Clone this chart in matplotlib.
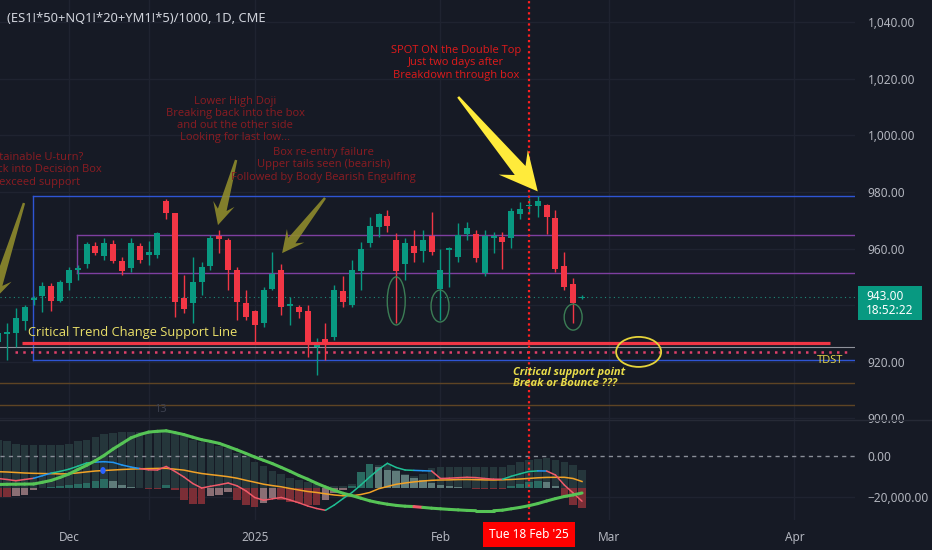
import matplotlib
matplotlib.use('Agg')
import matplotlib.pyplot as plt
import numpy as np
from matplotlib import font_manager
from matplotlib.patches import Rectangle, Ellipse, Polygon
from matplotlib.collections import LineCollection
from matplotlib.ticker import FuncFormatter


def pick(*names):
    for n in names:
        try:
            font_manager.findfont(font_manager.FontProperties(family=n), fallback_to_default=False)
            return n
        except Exception:
            pass
    return 'DejaVu Sans'


UI = pick('Noto Sans', 'Open Sans', 'DejaVu Sans')
NARROW = pick('Liberation Sans Narrow', 'Open Sans', 'Noto Sans', 'DejaVu Sans')

# ---------------- data ----------------
opens = [927.0, 930.0, 930.2, 934.4, 942.0, 943.3, 946.8, 941.5, 947.8, 952.4,
         954.6, 960.9, 957.4, 961.6, 955.6, 953.1, 960.9, 957.7, 957.7, 976.8,
         972.6, 942.5, 940.8, 948.2, 953.9, 964.5, 963.0, 952.4, 940.8, 938.0,
         933.7, 945.7, 952.4, 939.7, 939.4, 938.0, 925.2, 928.1, 928.8, 945.0,
         940.1, 952.1, 962.0, 967.6, 971.5, 963.0, 954.6, 960.9, 959.2, 964.5,
         945.7, 959.5, 957.0, 965.2, 965.2, 951.4, 963.7, 964.1, 963.7, 972.2,
         975.1, 975.1, 975.4, 970.8, 953.9, 947.5, 942.5]
highs = [933.0, 933.7, 939.0, 940.1, 943.3, 948.2, 947.8, 948.9, 953.5, 954.2,
         962.3, 962.3, 963.7, 963.0, 957.0, 963.7, 962.0, 962.7, 965.9, 977.5,
         972.6, 950.7, 957.0, 955.3, 964.8, 966.6, 963.7, 953.5, 945.4, 938.3,
         946.4, 958.8, 954.6, 942.9, 940.1, 940.1, 928.4, 933.7, 947.1, 950.3,
         956.0, 962.3, 971.2, 972.6, 973.6, 965.5, 963.7, 966.6, 966.6, 973.0,
         959.9, 960.6, 969.0, 969.4, 966.6, 966.6, 965.9, 965.9, 974.3, 976.5,
         977.9, 978.6, 975.8, 973.6, 958.8, 949.6, 943.6]
lows = [924.2, 920.6, 925.2, 931.2, 940.1, 937.6, 938.0, 941.1, 945.4, 948.9,
        953.1, 957.7, 956.0, 954.9, 950.7, 951.7, 954.9, 954.2, 956.7, 970.5,
        935.8, 937.2, 933.7, 943.6, 952.4, 958.4, 945.4, 934.8, 934.8, 927.0,
        932.3, 945.4, 936.5, 933.0, 935.5, 921.7, 915.3, 920.6, 927.7, 939.4,
        939.4, 945.4, 960.6, 964.1, 966.0, 933.7, 948.9, 955.3, 955.3, 957.7,
        934.8, 946.4, 955.3, 963.0, 955.3, 950.3, 958.4, 952.8, 960.2, 970.5,
        972.6, 971.2, 965.2, 951.7, 945.4, 933.7, 942.2]
closes = [930.2, 930.3, 935.5, 939.4, 942.3, 946.8, 941.5, 948.2, 952.4, 953.1,
          961.6, 958.4, 962.0, 955.6, 952.1, 962.0, 956.0, 958.8, 965.5, 972.6,
          941.1, 938.7, 948.2, 953.5, 963.7, 963.4, 952.4, 941.1, 935.8, 933.0,
          945.4, 951.0, 939.4, 940.4, 937.6, 926.3, 926.3, 926.3, 945.4, 941.1,
          952.4, 959.9, 968.0, 972.2, 968.0, 952.1, 962.0, 958.4, 963.0, 958.8,
          952.4, 960.2, 964.8, 967.3, 956.7, 964.5, 964.5, 962.3, 973.3, 974.0,
          975.4, 976.8, 971.2, 952.8, 946.4, 940.8, 943.0]

# indicator pane (thousands)
green_line = [-13.9, -13.8, -13.76, -13.7, -13.66, -12.83, -11.9, -10.44, -8.78, -6.63,
              -4.54, -2.29, 0.34, 3.41, 6.1, 8.83, 10.44, 11.66, 12.05, 12.29,
              11.41, 10.44, 9.17, 7.95, 7.12, 6.15, 4.59, 2.98, 1.27, -0.49,
              -2.1, -3.71, -5.56, -7.46, -9.51, -11.32, -13.32, -15.12, -16.73, -18.19,
              -19.32, -20.58, -21.85, -22.78, -23.51, -24.1, -24.49, -24.68, -25.07, -25.46,
              -25.76, -26.05, -26.29, -26.54, -26.68, -26.68, -26.68, -26.44, -25.76, -25.07,
              -24.24, -23.22, -21.95, -20.78, -19.76, -18.98, -18.05]
orange_line = [-7.66, -7.8, -8.05, -8.29, -8.44, -8.54, -8.63, -8.73, -8.68, -8.24,
               -7.76, -7.32, -7.07, -6.83, -6.59, -6.39, -6.24, -6.15, -6.05, -6.0,
               -6.44, -6.88, -7.76, -8.54, -9.07, -9.56, -10.1, -10.83, -11.85, -12.78,
               -13.76, -14.44, -15.02, -15.85, -16.59, -17.32, -17.8, -18.44, -19.02, -19.41,
               -19.41, -18.78, -17.8, -16.0, -14.88, -13.8, -13.17, -12.63, -12.2, -11.85,
               -11.71, -11.66, -11.51, -11.46, -11.56, -11.66, -11.71, -11.61, -11.46, -11.22,
               -10.93, -10.63, -10.44, -10.39, -10.39, -10.98, -12.44]
signal_line = [-10.98, -11.46, -12.05, -11.46, -10.88, -9.61, -8.34, -7.51, -6.44, -4.98,
               -3.41, -2.98, -2.78, -3.12, -4.39, -5.37, -6.1, -6.73, -6.83, -5.12,
               -7.56, -10.24, -13.41, -15.61, -14.78, -14.0, -13.17, -14.54, -16.98, -20.24,
               -21.56, -20.88, -20.24, -21.46, -22.83, -24.39, -25.61, -26.49, -23.9, -20.73,
               -17.8, -14.15, -10.24, -6.59, -3.56, -5.61, -6.83, -7.02, -7.17, -7.32,
               -10.98, -10.83, -10.59, -10.39, -10.54, -10.98, -11.32, -11.37, -9.9, -8.68,
               -7.56, -7.27, -7.32, -9.27, -14.15, -18.05, -22.05]
signal_state = "rrrrrbbtttttbbbbbrrrrrrrrrrrrrrrrrrrrrttttttttttbbrrrrrrrrttttbrrrr"
green_state = "ggggggggggggggggggggggggggggggggggggggggggggggggrgggggggggggggggggg"
cloud_bars = [7.8, 7.3, 5.9, 5.4, 5.4, 5.4, 5.4, 5.4, 5.9, 7.3,
              7.8, 9.3, 10.7, 11.2, 11.5, 11.7, 11.7, 11.7, 12.2, 12.2,
              10.7, 9.8, 7.8, 6.8, 6.3, 4.9, 3.9, 1.5, 0.0, -2.9,
              -4.9, -7.3, -8.8, -10.7, -11.7, -12.7, -13.7, -14.6, -14.6, -14.6,
              -13.7, -7.8, -5.9, -4.4, -3.9, -6.8, -8.8, -9.8, -8.8, -5.9,
              -5.4, -5.4, -5.4, -5.4, -5.4, -5.4, -5.4, -5.4, -4.4, -2.9,
              -2.0, -1.5, -1.0, -2.0, -2.9, -4.4, -6.8]
hist_bars = [-20.0, -20.0, -19.5, -19.0, -16.6, -15.4, -14.9, -14.6, -14.1, -13.7,
             -13.0, -12.0, -11.4, -12.0, -14.1, -15.0, -15.4, -16.1, -16.1, -14.1,
             -16.6, -21.5, -23.6, -23.6, -19.5, -19.0, -17.6, -21.5, -23.9, -24.7,
             -22.9, -20.5, -21.5, -22.3, -22.8, -23.9, -23.9, -21.5, -18.0, -16.6,
             -14.6, -7.8, -3.9, -5.4, -6.8, -7.3, -9.3, -10.7, -11.7, -13.2,
             -14.1, -14.6, -15.1, -15.4, -16.1, -16.1, -16.1, -16.1, -14.6, -13.7,
             -12.7, -12.2, -12.7, -14.6, -20.5, -23.9, -25.4]
HIST_BASE = -15.6

date_ticks = [8, 29, 50, 69, 90]
date_labels = ['Dec', '2025', 'Feb', 'Mar', 'Apr']
grid_x = [8, 17, 29, 50, 69, 90]
price_ticks = [900, 920, 960, 980, 1000, 1020, 1040]
price_grid = [900, 920, 940, 960, 980, 1000, 1020, 1040]
ind_ticks = [0, -20000]
MARK_IDX = 60
MARK_LABEL = "Tue 18 Feb '25"
LAST_PRICE = 943.0
LAST_TIME = "18:52:22"

# drawn levels
BOX = dict(left=3.94, top=978.6, bottom=920.6)
PURPLE = dict(left=8.9, top=964.8, bottom=951.4)
SUPPORT = (2.7, 94.0, 926.6)
GRAY_LVL = 925.2
TDST = (1.9, 96.3, 923.5)
ORANGE_LVLS = [912.5, 904.7]

# ---------------- style ----------------
BG = '#161a25'
GRID = '#1f2330'
TXT = '#b2b5be'
GREEN = '#089981'
RED = '#f23645'

W, H = 932, 550
fig = plt.figure(figsize=(W / 100, H / 100), dpi=100, facecolor=BG)
ax = fig.add_axes([0, 130 / H, 855 / W, 420 / H], facecolor=BG)
ax2 = fig.add_axes([0, 30 / H, 855 / W, 100 / H], facecolor=BG, sharex=ax)

XL = (0.21, 96.86)
ax.set_xlim(*XL)
ax.set_ylim(899.44, 1047.84)
ax2.set_ylim(-31220, 17561)

for a in (ax, ax2):
    for s in a.spines.values():
        s.set_visible(False)
    a.yaxis.tick_right()
    a.tick_params(axis='y', length=0, pad=9, labelsize=8.5, labelcolor=TXT)
    for g in grid_x:
        a.axvline(g, color=GRID, lw=1, zorder=0)

ax.set_yticks(price_ticks)
ax.yaxis.set_major_formatter(FuncFormatter(lambda v, p: f'{v:,.2f}'))
for p in price_grid:
    ax.axhline(p, color=GRID, lw=1, zorder=0)
ax.tick_params(axis='x', bottom=False, labelbottom=False)

ax2.set_yticks(ind_ticks)
ax2.yaxis.set_major_formatter(FuncFormatter(lambda v, p: f'{v:,.2f}'.replace('-', '\u2212')))
ax2.axhline(-20000, color=GRID, lw=1, zorder=0)
ax2.set_xticks(date_ticks)
ax2.set_xticklabels(date_labels)
ax2.tick_params(axis='x', length=0, pad=8, labelsize=8.5, labelcolor=TXT)
for lab in ax2.get_xticklabels() + ax2.get_yticklabels() + ax.get_yticklabels():
    lab.set_fontfamily(UI)
for lab in ax2.get_xticklabels():
    if lab.get_text() == '2025':
        lab.set_fontweight('bold')

# pane separator
fig.add_artist(plt.Line2D([0, 1], [130 / H, 130 / H], color='#262a36', lw=1))

# ---------------- candles ----------------
o = np.array(opens); h = np.array(highs); l = np.array(lows); c = np.array(closes)
idx = np.arange(len(o))
cols = np.where(c >= o, GREEN, RED)
ax.vlines(idx, l, h, colors=cols, lw=1, zorder=4)
body_lo = np.minimum(o, c)
body_h = np.maximum(np.abs(c - o), 0.4)
ax.bar(idx, body_h, bottom=body_lo, width=0.68, color=cols, zorder=5, linewidth=0)

# ---------------- levels ----------------
xr = XL[1]
ax.plot([BOX['left'], xr], [BOX['top'], BOX['top']], color='#2f55d4', lw=1, zorder=3)
ax.plot([BOX['left'], xr], [BOX['bottom'], BOX['bottom']], color='#2f55d4', lw=1, zorder=3)
ax.plot([BOX['left'], BOX['left']], [BOX['bottom'], BOX['top']], color='#2f55d4', lw=1, zorder=3)
ax.plot([PURPLE['left'], xr], [PURPLE['top'], PURPLE['top']], color='#7e3fa0', lw=1, zorder=3)
ax.plot([PURPLE['left'], xr], [PURPLE['bottom'], PURPLE['bottom']], color='#7e3fa0', lw=1, zorder=3)
ax.plot([PURPLE['left'], PURPLE['left']], [PURPLE['bottom'], PURPLE['top']], color='#7e3fa0', lw=1, zorder=3)
ax.axhline(LAST_PRICE, color='#1f8a7a', lw=0.8, ls=(0, (1, 3)), zorder=2)
ax.axhline(GRAY_LVL, color='#8f929b', lw=0.8, zorder=3)
ax.plot([SUPPORT[0], SUPPORT[1]], [SUPPORT[2]] * 2, color=RED, lw=2.3, zorder=6, solid_capstyle='butt')
ax.plot([TDST[0], TDST[1]], [TDST[2]] * 2, color='#e0406a', lw=1.8, ls=(0, (1, 2.1)),
        dash_capstyle='butt', zorder=3)
for lv in ORANGE_LVLS:
    ax.axhline(lv, color='#5e4424', lw=1, zorder=2)
ax.axvline(MARK_IDX, color='#ff1f1f', lw=1.6, ls=(0, (1, 1.5)), zorder=7)
ax2.axvline(MARK_IDX, color='#ff1f1f', lw=1.6, ls=(0, (1, 1.5)), zorder=7)

# ellipses
for (cx, cy, ew, eh) in [(45.0, 941.5, 2.03, 17.0), (49.95, 939.7, 2.03, 11.3), (65.0, 935.8, 2.03, 9.2)]:
    ax.add_patch(Ellipse((cx, cy), ew, eh, fill=False, ec='#3b7d55', lw=1, zorder=8))
ax.add_patch(Ellipse((72.4, 923.5), 5.09, 10.6, fill=False, ec='#e5d33a', lw=1.3, zorder=8))


# arrows
def tv_arrow(tail, tip, color, alpha, s0, s1, hw, hl):
    T = ax.transData
    p0 = T.transform(tail)
    p1 = T.transform(tip)
    d = p1 - p0
    u = d / np.hypot(*d)
    n = np.array([-u[1], u[0]])
    neck = p1 - u * hl * 0.72
    barb = p1 - u * hl
    pts = [p0 + n * s0, neck + n * s1, barb + n * hw, p1, barb - n * hw, neck - n * s1, p0 - n * s0]
    pts = T.inverted().transform(np.array(pts))
    ax.add_patch(Polygon(pts, closed=True, fc=color, ec='none', alpha=alpha, zorder=9))


OLIVE = '#8f8b2c'
tv_arrow((2.92, 976.1), (-0.6, 941.5), OLIVE, 0.9, 1.2, 4.5, 12, 24)
tv_arrow((26.9, 991.3), (24.85, 968.3), OLIVE, 0.9, 1.2, 4.5, 11, 22)
tv_arrow((36.95, 977.9), (32.1, 958.4), OLIVE, 0.9, 1.2, 4.5, 11, 22)
tv_arrow((52.0, 1013.6), (61.0, 980.2), '#ffeb3b', 1.0, 1.2, 7.0, 19, 38)

# texts
DIM = '#8a1c22'
ax.text(51.8, 1025.6, 'SPOT ON the Double Top\nJust two days after\nBreakdown through box',
        color='#e01b1b', fontsize=8, family=NARROW, ha='center', va='center', linespacing=1.15, zorder=10)
ax.text(26.8, 1005.6, 'Lower High Doji\nBreaking back into the box\nand out the other side\nLooking for last low...',
        color=DIM, fontsize=8, family=NARROW, ha='center', va='center', linespacing=1.15, zorder=10)
ax.text(36.8, 989.6, 'Box re-entry failure\nUpper tails seen (bearish)\nFollowed by Body Bearish Engulfing',
        color=DIM, fontsize=8, family=NARROW, ha='center', va='center', linespacing=1.15, zorder=10)
ax.text(3.9, 987.8, 'Sustainable U-turn?\nGet back into Decision Box\nor exceed support',
        color=DIM, fontsize=8, family=NARROW, ha='center', va='center', linespacing=1.15, zorder=10, clip_on=True)
ax.text(3.4, 930.4, 'Critical Trend Change Support Line', color='#ece26a', fontsize=9.3,
        family=NARROW, ha='left', va='center', zorder=10)
ax.text(58.2, 914.3, 'Critical support point\nBreak or Bounce ???', color='#e8dc4a', fontsize=8,
        family=NARROW, style='italic', weight='bold', ha='left', va='center', linespacing=1.1, zorder=10)
ax.text(94.0, 920.3, 'TDST', color='#e6d84a', fontsize=8, family=NARROW, ha='center', va='center', zorder=10)
ax.text(18.3, 903.3, '13', color='#3d4150', fontsize=8, family=UI, ha='center', va='center', zorder=10)

fig.text(7 / W, 1 - 18 / H, '(ES1!*50+NQ1!*20+YM1!*5)/1000, 1D, CME', color='#d1d4dc',
         fontsize=9.3, family=UI, ha='left', va='center')

# price tag
yt = ax.get_yaxis_transform()
ax.add_patch(Rectangle((858 / 855, 934.77), (922 - 858) / 855, 12.0, transform=yt,
                       fc=GREEN, ec='none', clip_on=False, zorder=20))
ax.text(866 / 855, LAST_PRICE, f'{LAST_PRICE:.2f}', transform=yt, color='white', fontsize=8.5,
        family=UI, ha='left', va='center', clip_on=False, zorder=21)
ax.text(866 / 855, 938.0, LAST_TIME, transform=yt, color='white', fontsize=8.5,
        family=UI, ha='left', va='center', clip_on=False, zorder=21)

# date marker label
ax2.text(MARK_IDX, -0.145, MARK_LABEL, transform=ax2.get_xaxis_transform(), color='white',
         fontsize=8.5, family=UI, ha='center', va='center', clip_on=False, zorder=21,
         bbox=dict(boxstyle='square,pad=0.55', fc='#ff0000', ec='none'))

# ---------------- indicator ----------------
K = 1000.0
cb = np.array(cloud_bars) * K
hb = np.array(hist_bars) * K
base = HIST_BASE * K
ax2.bar(idx, cb - base, bottom=base, width=0.86, color='#25363b', zorder=1, linewidth=0)
hcols = []
for i, v in enumerate(hb):
    prev = hb[i - 1] if i > 0 else v
    if v >= base:
        hcols.append('#2a6a61' if v >= prev else '#5f7b7a')
    else:
        hcols.append('#7b2e36' if v <= prev else '#8a6e74')
ax2.bar(idx, hb - base, bottom=base, width=0.86, color=hcols, zorder=2, linewidth=0)
ax2.axhline(0, color='#8a8e98', lw=1, ls=(0, (3, 3)), zorder=3)


def colored_line(vals, states, cmap, lw, z):
    v = np.array(vals) * K
    segs = [[(i - 1, v[i - 1]), (i, v[i])] for i in range(1, len(v))]
    cs = [cmap[states[i]] for i in range(1, len(v))]
    ax2.add_collection(LineCollection(segs, colors=cs, linewidths=lw, zorder=z, capstyle='round'))


ax2.plot(idx, np.array(orange_line) * K, color='#f2a227', lw=1.1, zorder=5)
colored_line(signal_line, signal_state, {'r': '#f05a6a', 't': '#1fbf94', 'b': '#2196f3'}, 1.1, 6)
colored_line(green_line, green_state, {'g': '#56c456', 'r': '#f05a6a'}, 2.2, 7)
ax2.add_patch(Ellipse((11.85, -7070), 0.6, 3400, fc='#2962ff', ec='none', zorder=8))

fig.savefig('out.png', dpi=100, facecolor=BG)
